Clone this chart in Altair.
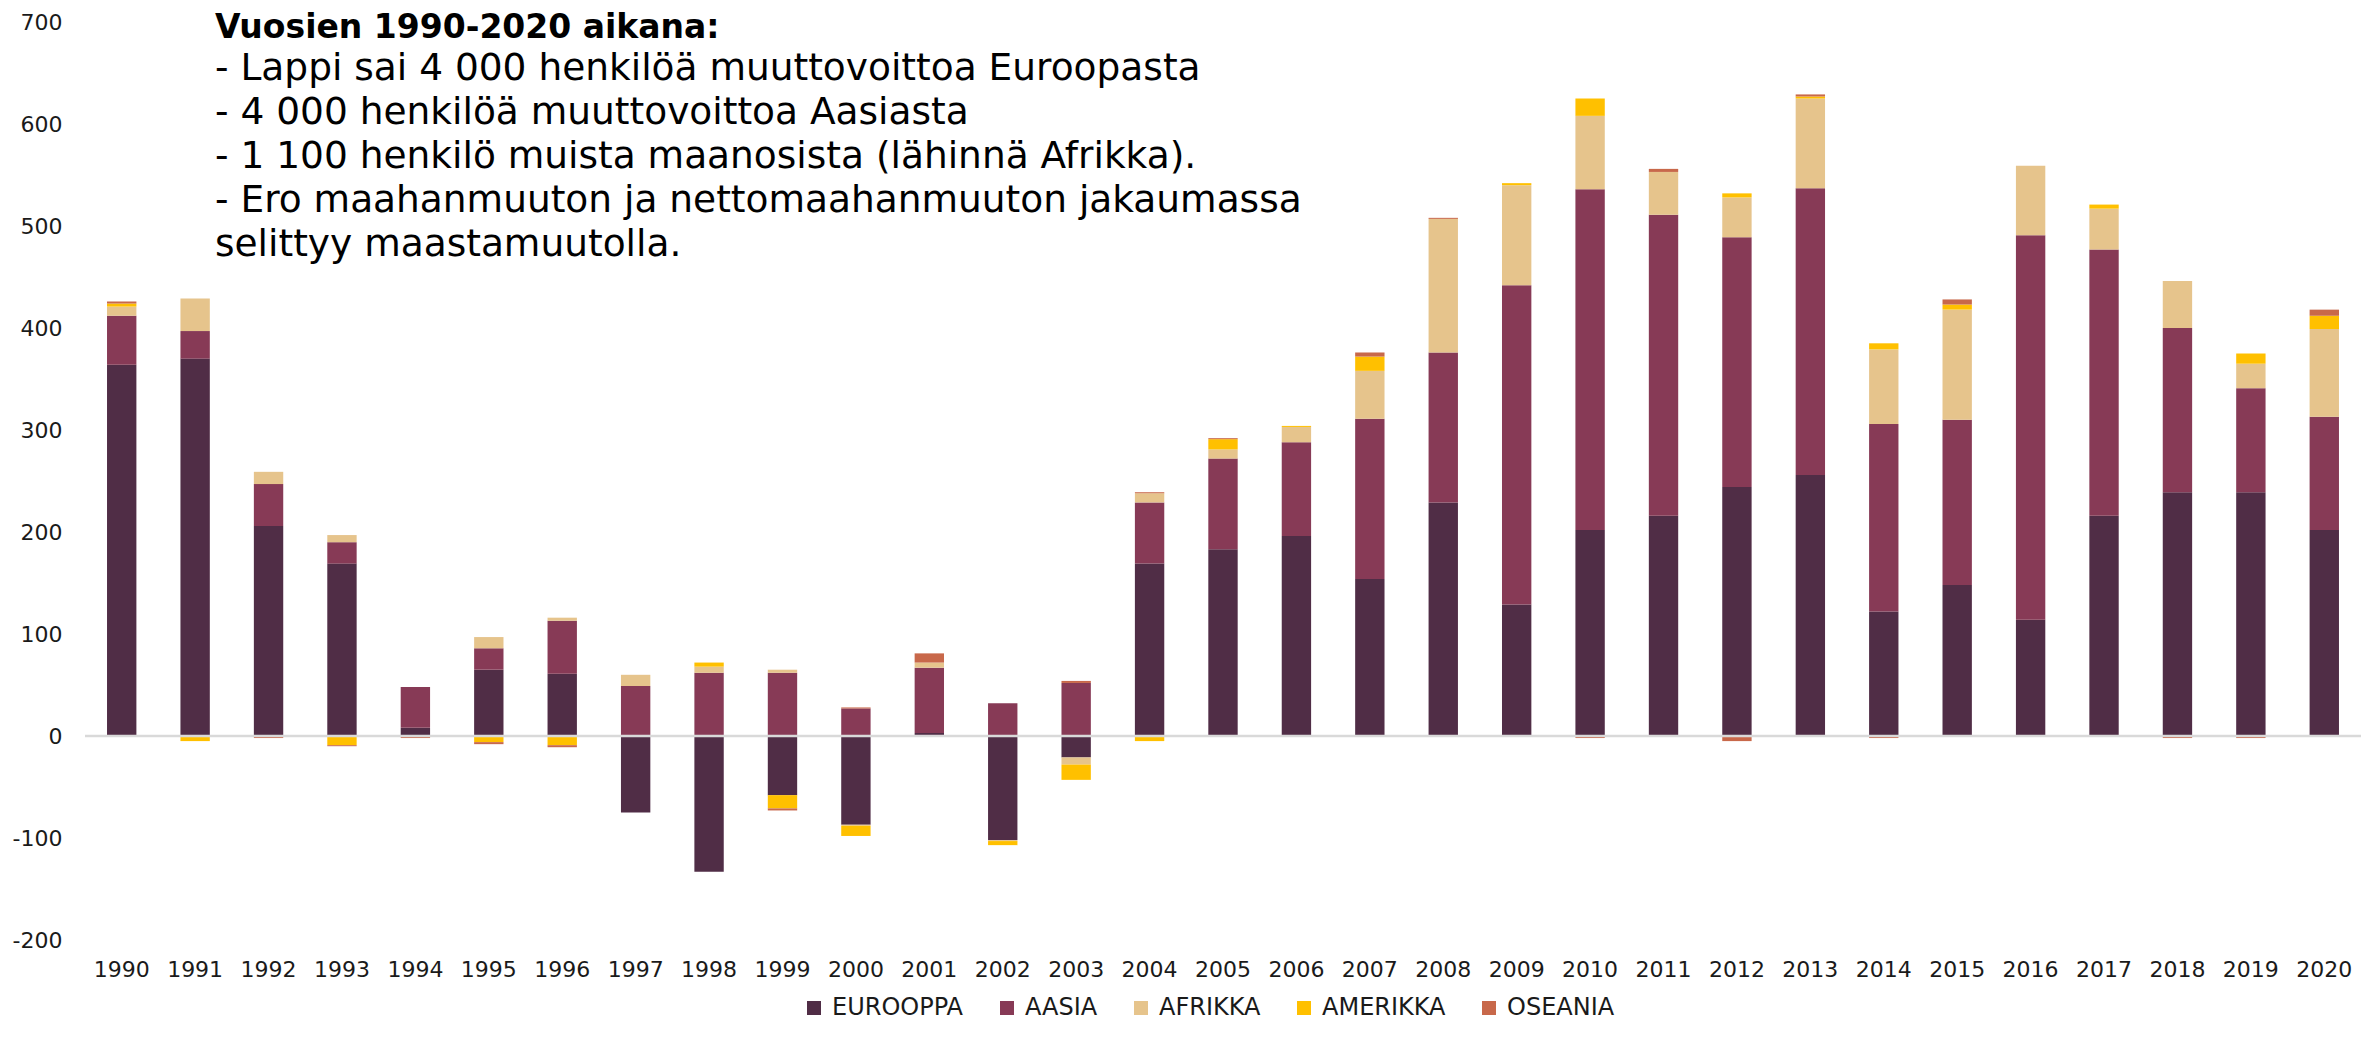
import altair as alt
import pandas as pd

# ---------------- data ----------------
years = [str(y) for y in range(1990, 2021)]

eurooppa = [364, 370, 206, 169, 8, 65, 61, -75, -133, -58,
            -87, 3, -102, -21, 169, 183, 196, 154, 229, 129,
            202, 216, 244, 256, 122, 148, 114, 216, 239, 239, 202]
aasia = [48, 27, 41, 21, 40, 21, 52, 49, 62, 62,
         27, 64, 32, 52, 60, 89, 92, 157, 147, 313,
         334, 295, 245, 281, 184, 162, 377, 261, 161, 102, 111]
afrikka = [9, 32, 12, 7, 0, 11, 3, 11, 6, 3,
           -1, 5, -1, -7, 9, 9, 15, 47, 131, 98,
           72, 42, 39, 88, 73, 108, 68, 40, 46, 24, 86]
amerikka = [3, -5, 0, -9, 0, -6, -9, 0, 4, -13,
            -10, 0, -4, -15, -5, 10, 1, 14, 0, 2,
            17, -1, 4, 2, 6, 5, 0, 4, 0, 10, 13]
oseania = [2, 0, -2, -1, -2, -2, -2, 0, 0, -2,
           1, 9, 0, 2, 1, 1, 0, 4, 1, 0,
           -2, 3, -5, 2, -2, 5, 0, 0, -2, -2, 6]

series = ["EUROOPPA", "AASIA", "AFRIKKA", "AMERIKKA", "OSEANIA"]
colors = ["#502D46", "#873A56", "#E6C48C", "#FFC000", "#C8684A"]
values = [eurooppa, aasia, afrikka, amerikka, oseania]

y_ticks = [-200, -100, 0, 100, 200, 300, 400, 500, 600, 700]

title_text = "Vuosien 1990-2020 aikana:"
body_lines = [
    "- Lappi sai 4 000 henkilöä muuttovoittoa Euroopasta",
    "- 4 000 henkilöä muuttovoittoa Aasiasta",
    "- 1 100 henkilö muista maanosista (lähinnä Afrikka).",
    "- Ero maahanmuuton ja nettomaahanmuuton jakaumassa",
    "selittyy maastamuutolla.",
]

rows = []
for i, name in enumerate(series):
    for yr, v in zip(years, values[i]):
        rows.append({"vuosi": yr, "alue": name, "jarjestys": i, "arvo": v})
df = pd.DataFrame(rows)

FONT = "DejaVu Sans"

bars = alt.Chart(df).mark_bar().encode(
    x=alt.X(
        "vuosi:N",
        sort=years,
        scale=alt.Scale(paddingInner=0.6, paddingOuter=0.3),
        axis=alt.Axis(
            title=None, labelAngle=0, ticks=False, domain=False,
            labelFontSize=22, labelPadding=19, labelColor="#1a1a1a",
            labelFont=FONT,
        ),
    ),
    y=alt.Y(
        "arvo:Q",
        stack="zero",
        scale=alt.Scale(domain=[-200, 700], nice=False, zero=False),
        axis=alt.Axis(
            title=None, values=y_ticks, grid=False, domain=False,
            ticks=False, tickSize=0, labelPadding=23, labelFontSize=22,
            labelColor="#1a1a1a", labelFont=FONT,
            labelExpr="'' + datum.value",
        ),
    ),
    color=alt.Color(
        "alue:N",
        scale=alt.Scale(domain=series, range=colors),
        legend=alt.Legend(
            title=None, orient="none", legendX=717, legendY=974,
            direction="horizontal", symbolType="square", symbolSize=196,
            symbolStrokeWidth=0, labelFontSize=24, labelFont=FONT,
            labelColor="#1a1a1a", labelOffset=6, columnPadding=31,
            padding=0, rowPadding=0,
        ),
    ),
    order=alt.Order("jarjestys:Q", sort="ascending"),
)

zero_rule = alt.Chart(pd.DataFrame({"z": [0]})).mark_rule(
    color="#D9D9D9", strokeWidth=2.5
).encode(y=alt.datum(0))

title_mark = alt.Chart(pd.DataFrame({"t": [title_text]})).mark_text(
    align="left", baseline="middle", font=FONT, fontSize=33,
    fontWeight="bold", color="#000000"
).encode(x=alt.value(130), y=alt.value(6), text="t:N")

body_marks = []
for k, line in enumerate(body_lines):
    body_marks.append(
        alt.Chart(pd.DataFrame({"t": [line]})).mark_text(
            align="left", baseline="middle", font=FONT, fontSize=37.5,
            color="#000000"
        ).encode(x=alt.value(130), y=alt.value(46.5 + 44.2 * k), text="t:N")
    )

chart = alt.layer(bars, zero_rule, title_mark, *body_marks).properties(
    width=2276,
    height=918,
    autosize=alt.AutoSizeParams(type="none"),
    padding={"left": 77, "top": 14, "right": 5, "bottom": 82},
).configure_view(stroke=None)

chart.save("out.html", embed_options={"renderer": "svg", "actions": False})
